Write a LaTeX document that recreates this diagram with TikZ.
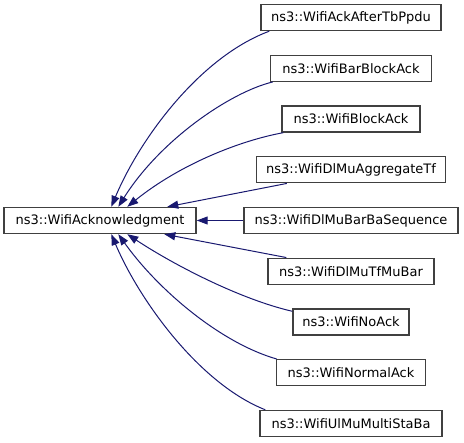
\documentclass[tikz,border=0pt]{standalone}
\usepackage{fontspec}
\setmainfont{DejaVu Sans}
\usepackage{xcolor}
\usetikzlibrary{arrows.meta,calc}
\definecolor{edgeblue}{RGB}{25,25,112}
\definecolor{boxgray}{RGB}{64,64,64}

\begin{document}
\begin{tikzpicture}[x=1pt,y=1pt,
    classbox/.style={draw=boxgray,line width=1.4pt,fill=white,
        minimum height=26pt,inner sep=0pt,font=\fontsize{13}{15}\selectfont},
    inherit/.style={draw=edgeblue,line width=1pt,
        -{Triangle[length=11pt,width=8pt]}}
    ]
        \useasboundingbox (0,0) rectangle (464,443);
        % Base class
        \node[classbox,minimum width=192pt] (ack) at (100,222.5) {ns3::WifiAcknowledgment};
        % Derived classes
        \node[classbox,minimum width=180pt] (afterTb) at (351,425.5) {ns3::WifiAckAfterTbPpdu};
        \node[classbox,minimum width=161pt] (barBlockAck) at (351,374.75) {ns3::WifiBarBlockAck};
        \node[classbox,minimum width=138pt] (blockAck) at (351,324) {ns3::WifiBlockAck};
        \node[classbox,minimum width=189pt] (dlMuAggr) at (351,273.25) {ns3::WifiDlMuAggregateTf};
        \node[classbox,minimum width=214pt] (dlMuBarBa) at (351,222.5) {ns3::WifiDlMuBarBaSequence};
        \node[classbox,minimum width=166pt] (dlMuTfMuBar) at (351,171.75) {ns3::WifiDlMuTfMuBar};
        \node[classbox,minimum width=116pt] (noAck) at (351,121) {ns3::WifiNoAck};
        \node[classbox,minimum width=149pt] (normalAck) at (351,70.25) {ns3::WifiNormalAck};
        \node[classbox,minimum width=182pt] (ulMuMultiSta) at (351,19.5) {ns3::WifiUlMuMultiStaBa};

        % Top
        \draw[inherit] ($(afterTb.south west)+(9,0)$) .. controls +(-70,-26) and +(28,67) .. ($(ack.north west)+(108,0)$);
        \draw[inherit] ($(barBlockAck.south west)+(3,0)$) .. controls +(-42,-10) and +(42,67) .. ($(ack.north west)+(115,0)$);
        \draw[inherit] ($(blockAck.south west)+(2,0)$) .. controls +(-44,-8) and +(52,42) .. ($(ack.north west)+(124,0)$);
        \draw[inherit] ($(dlMuAggr.south west)+(31,0)$) -- ($(ack.north west)+(164,0)$);
        % Middle
        \draw[inherit] (dlMuBarBa.west) -- (ack.east);
        % Bottom
        \draw[inherit] ($(dlMuTfMuBar.north west)+(19,0)$) -- ($(ack.south west)+(161,0)$);
        \draw[inherit] ($(noAck.north west)+(0,-3)$) .. controls +(-52,12) and +(47,-31) .. ($(ack.south west)+(124,0)$);
        \draw[inherit] ($(normalAck.north west)+(1,0)$) .. controls +(-56,16) and +(40,-56) .. ($(ack.south west)+(115,0)$);
        \draw[inherit] ($(ulMuMultiSta.north west)+(6,0)$) .. controls +(-66,26) and +(28,-66) .. ($(ack.south west)+(108,0)$);
\end{tikzpicture}
\end{document}
